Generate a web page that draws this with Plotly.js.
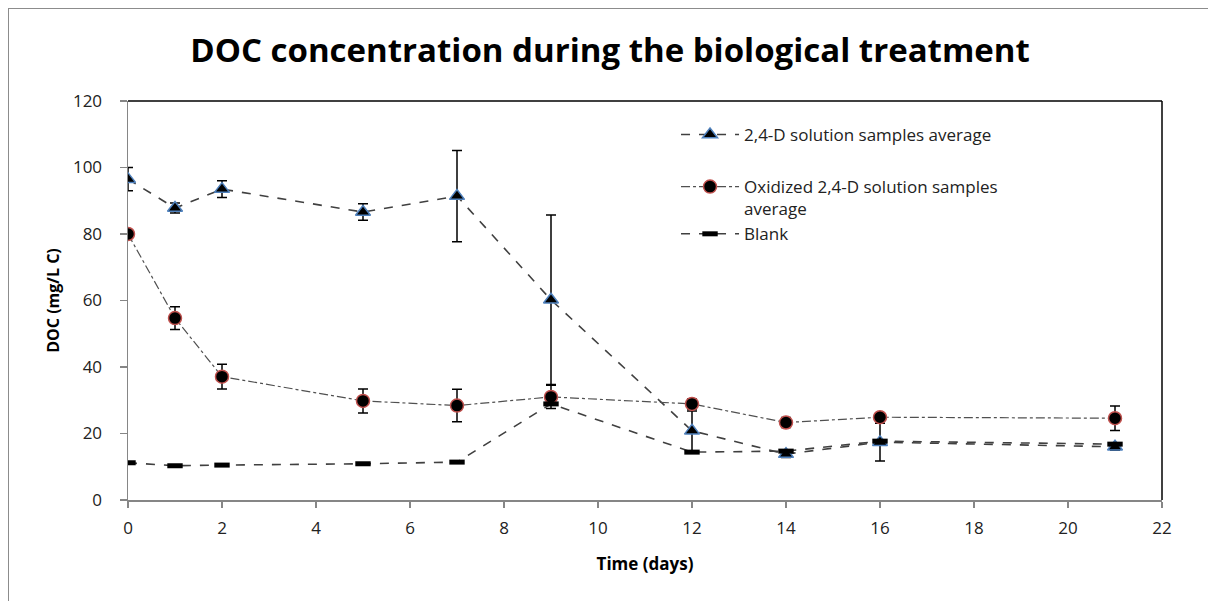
<!DOCTYPE html>
<html><head><meta charset="utf-8">
<script src="https://cdn.plot.ly/plotly-3.0.1.min.js"></script>
<style>
body{margin:0;padding:0;background:#fff;}
#wrap{position:relative;width:1208px;height:601px;}
#chart{position:absolute;left:0;top:0;width:1208px;height:601px;}
#frame{position:absolute;left:8px;top:8px;width:1210px;height:610px;border:1px solid #8c8c8c;pointer-events:none;}
</style></head>
<body><div id="wrap"><div id="chart"></div><div id="frame"></div></div>
<script>
const days = [0, 1, 2, 5, 7, 9, 12, 14, 16, 21];
const d24 = [96.5, 87.8, 93.5, 86.6, 91.4, 60.2, 20.8, 13.8, 17.4, 16.0];
const d24Err = [3.5, 1.5, 2.5, 2.5, 13.7, 25.5, 6.0, 1.0, 5.7, 1.0];
const oxid = [80.0, 54.7, 37.1, 29.8, 28.4, 31.0, 28.9, 23.3, 24.9, 24.6];
const oxidErr = [1.0, 3.4, 3.7, 3.6, 4.9, 3.5, 1.5, 1.5, 1.0, 3.7];
const blank = [11.2, 10.3, 10.5, 10.9, 11.4, 28.9, 14.4, 14.7, 17.7, 16.8];
const xTicks = [0, 2, 4, 6, 8, 10, 12, 14, 16, 18, 20, 22];
const yTicks = [0, 20, 40, 60, 80, 100, 120];

const font = "'Open Sans', sans-serif";
const traces = [
  {x: days, y: d24, name: '2,4-D solution samples average', mode: 'lines+markers', legendgroup: 'a',
   line: {color: '#404040', dash: 'dash', width: 1.6},
   marker: {symbol: 'triangle-up', size: 13, color: '#000', line: {color: '#4f81bd', width: 1.5}},
   error_y: {type: 'data', array: d24Err, visible: true, color: '#000', thickness: 1.5, width: 5}},
  {x: days, y: oxid, name: 'Oxidized 2,4-D solution samples<br>average', mode: 'lines+markers', legendgroup: 'b',
   line: {color: '#505050', dash: 'dashdot', width: 1.2},
   marker: {symbol: 'circle', size: 13, color: '#000', line: {color: '#c0504d', width: 1.5}},
   error_y: {type: 'data', array: oxidErr, visible: true, color: '#000', thickness: 1.5, width: 5}},
  {x: days, y: blank, name: 'Blank', mode: 'lines+markers', legendgroup: 'b',
   line: {color: '#404040', dash: 'dash', width: 1.6},
   marker: {symbol: 'line-ew', size: 11, color: '#000', line: {color: '#000', width: 5}}}
];

const layout = {
  width: 1208, height: 601,
  margin: {l: 128, r: 46, t: 101, b: 101},
  paper_bgcolor: '#fff', plot_bgcolor: '#fff',
  font: {family: font, color: '#000', size: 14},
  title: {text: '<b>DOC concentration during the biological treatment</b>',
    font: {family: font, size: 33, color: '#000'},
    x: 0.505, xanchor: 'center', y: 1 - 50/601, yanchor: 'middle', yref: 'container'},
  xaxis: {range: [0, 22], tickvals: xTicks, ticktext: xTicks.map(String),
    showgrid: false, zeroline: false, showline: true, linecolor: '#868686', linewidth: 1.5,
    ticks: 'outside', ticklen: 6, tickcolor: '#868686', tickwidth: 1.5, ticklabelstandoff: 6,
    tickfont: {size: 17, family: font, color: '#222'},
    title: {text: '<b>Time (days)</b>', font: {size: 17, family: font}, standoff: 20}},
  yaxis: {range: [0, 120], tickvals: yTicks, ticktext: yTicks.map(String),
    showgrid: false, zeroline: false, showline: true, linecolor: '#868686', linewidth: 1.5,
    ticks: 'outside', ticklen: 7, tickcolor: '#868686', tickwidth: 1.5, ticklabelstandoff: 14,
    tickfont: {size: 17, family: font, color: '#222'},
    title: {text: '<b>DOC (mg/L C)</b>', font: {size: 16, family: font}, standoff: 9}},
  shapes: [
    {type: 'line', xref: 'paper', yref: 'paper', x0: 0, x1: 1, y0: 1, y1: 1, line: {color: '#000', width: 1.5}},
    {type: 'line', xref: 'paper', yref: 'paper', x0: 1, x1: 1, y0: 0, y1: 1, line: {color: '#000', width: 1.5}}
  ],
  legend: {x: 0.53, y: 0.96, xanchor: 'left', yanchor: 'top', bgcolor: 'rgba(0,0,0,0)',
    font: {size: 17, family: font, color: '#222'}, tracegroupgap: 27, valign: 'top', itemwidth: 58},
  showlegend: true
};
Plotly.newPlot('chart', traces, layout, {displayModeBar: false, staticPlot: true});
</script></body></html>
